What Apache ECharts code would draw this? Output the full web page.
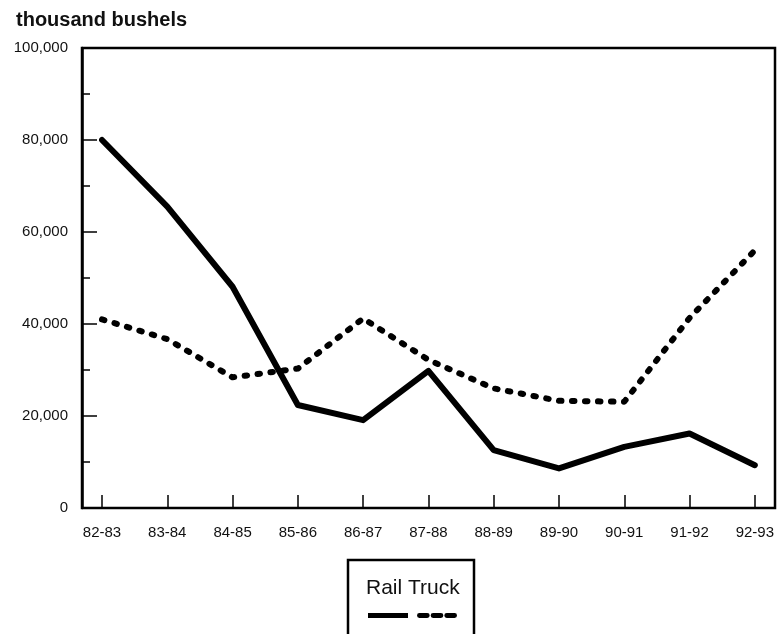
<!DOCTYPE html>
<html>
<head>
<meta charset="utf-8">
<script src="https://cdn.jsdelivr.net/npm/echarts@6/dist/echarts.min.js"></script>
<style>
html,body{margin:0;padding:0;background:#fff;}
#chart{width:777px;height:634px;}
</style>
</head>
<body>
<div id="chart"></div>
<script>
const categories = ['82-83','83-84','84-85','85-86','86-87','87-88','88-89','89-90','90-91','91-92','92-93'];
const railValues = [80000, 65500, 48100, 22400, 19100, 29800, 12600, 8600, 13300, 16200, 9300];
const truckValues = [41000, 36700, 28400, 30300, 41200, 32200, 26000, 23300, 23100, 41300, 56000];
const yTicks = [0, 20000, 40000, 60000, 80000, 100000];
const unitLabel = 'thousand bushels';
const legendLabel = 'Rail Truck';

const font = '"Liberation Sans", Arial, Helvetica, sans-serif';
const chart = echarts.init(document.getElementById('chart'), null, {renderer: 'canvas'});

chart.setOption({
  animation: false,
  backgroundColor: '#fff',
  title: {
    text: unitLabel,
    left: 11, top: 5,
    textStyle: {fontFamily: font, fontSize: 20, fontWeight: 'bold', color: '#111'}
  },
  grid: [
    {left: 82, right: 2, top: 48, bottom: 126, show: true, borderColor: '#000', borderWidth: 2.5, backgroundColor: 'transparent'},
    {left: 102, right: 20, top: 48, bottom: 126}
  ],
  xAxis: [
    {gridIndex: 0, type: 'value', min: 0, max: 1, show: false},
    {
      gridIndex: 1, type: 'category', data: categories, boundaryGap: false,
      axisLine: {show: false},
      axisTick: {show: true, inside: true, length: 13, alignWithLabel: true, lineStyle: {color: '#000', width: 1.5}},
      axisLabel: {margin: 17, fontFamily: font, fontSize: 15, color: '#111', interval: 0},
      splitLine: {show: false}
    }
  ],
  yAxis: [
    {
      gridIndex: 0, type: 'value', min: yTicks[0], max: yTicks[yTicks.length - 1], interval: yTicks[1] - yTicks[0],
      axisLine: {show: true, lineStyle: {color: '#000', width: 2.5}},
      axisTick: {show: true, inside: true, length: 15, lineStyle: {color: '#000', width: 1.5}},
      minorTick: {show: true, splitNumber: 2, length: 8, lineStyle: {color: '#000', width: 1.5}},
      axisLabel: {margin: 14, fontFamily: font, fontSize: 15, color: '#111',
        formatter: v => v.toLocaleString('en-US')},
      splitLine: {show: false}
    },
    {gridIndex: 1, type: 'value', min: yTicks[0], max: yTicks[yTicks.length - 1], show: false}
  ],
  legend: {
    left: 363, top: 608,
    itemWidth: 40, itemHeight: 5, itemGap: 9,
    formatter: () => '',
    textStyle: {fontSize: 1},
    data: [
      {name: 'Rail', icon: 'path://M0,0H40V5H0Z'},
      {name: 'Truck', icon: 'path://M1,0H9A2.5,2.5 0 0 1 9,5H1A2.5,2.5 0 0 1 1,0Z M15,0H23A2.5,2.5 0 0 1 23,5H15A2.5,2.5 0 0 1 15,0Z M29,0H37A2.5,2.5 0 0 1 37,5H29A2.5,2.5 0 0 1 29,0Z'}
    ]
  },
  graphic: [
    {type: 'rect', shape: {x: 348, y: 560, width: 126, height: 90},
     style: {fill: 'none', stroke: '#000', lineWidth: 2.5}, z: 10},
    {type: 'text', x: 366, y: 588,
     style: {text: legendLabel, font: '21px ' + font, fill: '#111', textVerticalAlign: 'middle'}, z: 10}
  ],
  series: [
    {
      name: 'Rail', type: 'line', xAxisIndex: 1, yAxisIndex: 1,
      data: railValues, symbol: 'none', smooth: false,
      itemStyle: {color: '#000'},
      lineStyle: {color: '#000', width: 6, cap: 'round', join: 'round'}
    },
    {
      name: 'Truck', type: 'line', xAxisIndex: 1, yAxisIndex: 1,
      data: truckValues, symbol: 'none', smooth: false,
      itemStyle: {color: '#000'},
      lineStyle: {color: '#000', width: 6, type: [2.5, 10.5], cap: 'round', join: 'round'}
    }
  ]
});
</script>
</body>
</html>
